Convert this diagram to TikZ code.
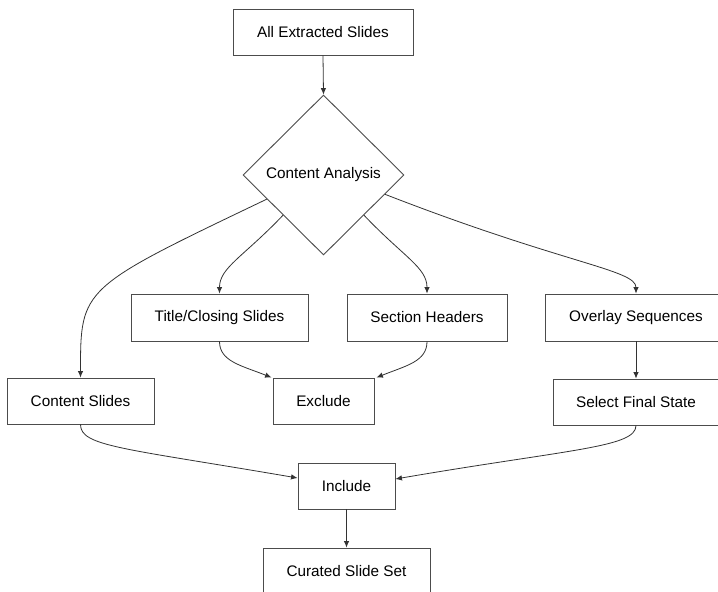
\documentclass[tikz,border=0pt]{standalone}
\usepackage{fontspec}
\setmainfont{Liberation Sans}
\usetikzlibrary{arrows.meta,shapes.geometric,calc}
\begin{document}
\begin{tikzpicture}[x=1pt,y=-1pt,
  box/.style={draw=black!70,line width=0.9pt,fill=white,rectangle,inner sep=0pt,minimum height=46pt,font=\fontsize{15.3}{18}\selectfont,text=black},
  dia/.style={draw=black!70,line width=0.9pt,fill=white,diamond,inner sep=0pt,minimum width=161pt,minimum height=160pt,font=\fontsize{15.3}{18}\selectfont,text=black},
  conn/.style={draw=black!80,line width=0.8pt,-{Latex[length=6.5pt,width=5.5pt]}}]
\useasboundingbox (0,0) rectangle (718,592);
\fill[white] (0,0) rectangle (718,592);
\clip (0,0) rectangle (718,592);
\node[box,minimum width=180pt] (all) at (323,32) {All Extracted Slides};
\node[dia] (ca) at (323.5,175) {Content Analysis};
\node[box,minimum width=177pt,minimum height=47pt] (title) at (219.5,317.5) {Title/Closing Slides};
\node[box,minimum width=160pt,minimum height=47pt] (sec) at (427,317.5) {Section Headers};
\node[box,minimum width=182pt,minimum height=47pt] (ovl) at (636,317.5) {Overlay Sequences};
\node[box,minimum width=147pt] (cs) at (80.5,401) {Content Slides};
\node[box,minimum width=101pt] (exc) at (323.5,401) {Exclude};
\node[box,minimum width=166pt] (sel) at (636,402) {Select Final State};
\node[box,minimum width=97pt] (inc) at (346.5,486) {Include};
\node[box,minimum width=167pt] (cur) at (346.5,571) {Curated Slide Set};
\draw[conn] (all.south) -- (ca.north);
\draw[conn] ($(ca.west)!0.3!(ca.south)$) .. controls +(-186,89) and +(0,-90) .. (cs.north);
\draw[conn] (ca.south west) .. controls +(-40,42) and +(0,-26) .. (title.north);
\draw[conn] (ca.south east) .. controls +(40,42) and +(0,-26) .. (sec.north);
\draw[conn] ($(ca.east)!0.24!(ca.south)$) .. controls +(180,70) and +(0,-24) .. (ovl.north);
\draw[conn] (title.south) .. controls +(0,20) and +(-30,-12) .. ($(exc.north west)+(-1,0)$);
\draw[conn] (sec.south) .. controls +(0,20) and +(30,-12) .. ($(exc.north east)+(2,0)$);
\draw[conn] (ovl.south) -- (sel.north);
\draw[conn] (cs.south) .. controls +(0,22) and +(-175,-30) .. ($(inc.west)+(0,-8)$);
\draw[conn] (sel.south) .. controls +(0,22) and +(175,-30) .. ($(inc.east)+(0,-7)$);
\draw[conn] (inc.south) -- (cur.north);
\end{tikzpicture}
\end{document}
